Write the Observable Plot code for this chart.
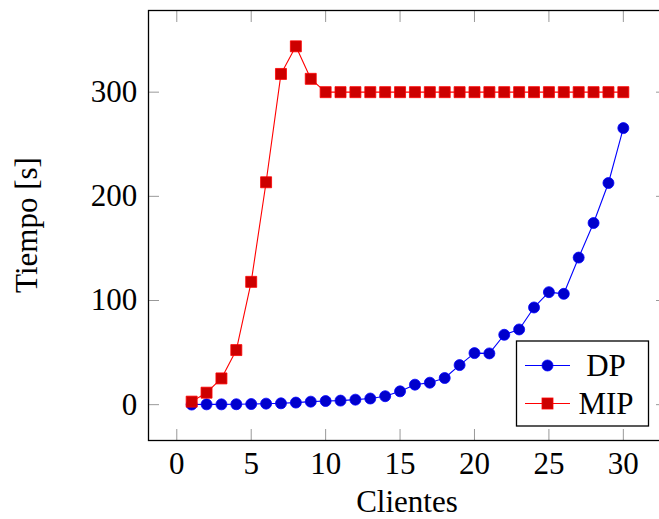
<!DOCTYPE html>
<html><head><meta charset="utf-8">
<script src="https://cdn.jsdelivr.net/npm/d3@7"></script>
<script src="https://cdn.jsdelivr.net/npm/@observablehq/plot@0.6"></script>
<style>html,body{margin:0;padding:0;background:#fff;overflow:hidden;}</style>
</head><body><div id="chart"></div>
<script>
const clientes = [1,2,3,4,5,6,7,8,9,10,11,12,13,14,15,16,17,18,19,20,21,22,23,24,25,26,27,28,29,30];
const dpTiempo = [0.1,0.3,0.3,0.4,0.6,1.0,1.3,2.0,2.9,3.5,3.9,4.8,5.9,8.1,12.8,19.2,21.1,25.6,38.0,49.5,49.2,67.1,72.2,93.3,108.0,106.4,141.2,174.4,212.8,265.5];
const mipTiempo = [2.9,11.5,25.2,52.4,117.9,213.5,317.5,344.0,312.8,300,300,300,300,300,300,300,300,300,300,300,300,300,300,300,300,300,300,300,300,300];
const xTicks = [0,5,10,15,20,25,30];
const yTicks = [0,100,200,300];
const seriesNames = ["DP","MIP"];
const xLabel = "Clientes";
const yLabel = "Tiempo [s]";

const dpData = clientes.map((c,i)=>({clientes:c, tiempo:dpTiempo[i]}));
const mipData = clientes.map((c,i)=>({clientes:c, tiempo:mipTiempo[i]}));

const font = "'Liberation Serif', 'Times New Roman', serif";
const tickColor = "#999";
const blueLine = "#0000ff", blueFill = "#0000cc", redLine = "#ff0000", redFill = "#cc0000";

const W = 659, H = 519, mL = 148, mR = -7, mT = 10, mB = 79;

const plot = Plot.plot({
  width: W, height: H,
  marginLeft: mL, marginRight: mR, marginTop: mT, marginBottom: mB,
  style: {fontFamily: font, fontSize: "31px", background: "#fff", color: "#000", overflow: "hidden"},
  x: {domain: [-1.9, 32.9]},
  y: {domain: [-34.4, 378.4]},
  marks: [
    Plot.axisX(xTicks, {anchor: "bottom", tickSize: -11, fill: "none", stroke: tickColor, label: null}),
    Plot.axisX(xTicks, {anchor: "top", tickSize: -11, fill: "none", stroke: tickColor, label: null}),
    Plot.axisY(yTicks, {anchor: "left", tickSize: -11, fill: "none", stroke: tickColor, label: null}),
    Plot.axisY(yTicks, {anchor: "right", tickSize: -11, fill: "none", stroke: tickColor, label: null}),
    Plot.axisX(xTicks, {anchor: "bottom", tickSize: 0, tickPadding: 11.3, label: null, fill: "#000"}),
    Plot.axisY(yTicks, {anchor: "left", tickSize: 0, tickPadding: 11.3, label: null, fill: "#000"}),
    Plot.frame({stroke: "#000", strokeWidth: 1.3}),
    Plot.line(dpData, {x: "clientes", y: "tiempo", stroke: blueLine, strokeWidth: 1.1}),
    Plot.dot(dpData, {x: "clientes", y: "tiempo", r: 5.5, fill: blueFill, stroke: blueLine, strokeWidth: 0.8}),
    Plot.line(mipData, {x: "clientes", y: "tiempo", stroke: redLine, strokeWidth: 1.1}),
    Plot.dot(mipData, {x: "clientes", y: "tiempo", symbol: "square", r: 6.2, fill: redFill, stroke: redLine, strokeWidth: 0.8})
  ]
});

const svg = d3.select(plot);
const xr = plot.scale("x").range, yr = plot.scale("y").range;
const cx = (xr[0] + xr[1]) / 2, cy = (yr[0] + yr[1]) / 2;

svg.append("text").text(xLabel)
  .attr("x", cx).attr("y", 512).attr("text-anchor", "middle")
  .attr("font-family", font).attr("font-size", 31).attr("fill", "#000");
svg.append("text").text(yLabel)
  .attr("transform", `translate(36.7,${cy}) rotate(-90)`).attr("text-anchor", "middle")
  .attr("font-family", font).attr("font-size", 31).attr("fill", "#000");

// legend
const lg = svg.append("g");
lg.append("rect").attr("x", 516.5).attr("y", 341).attr("width", 132).attr("height", 85)
  .attr("fill", "#fff").attr("stroke", "#000").attr("stroke-width", 1.3);
const rows = [365.5, 403.5];
seriesNames.forEach((name, i) => {
  const y = rows[i];
  const line = i === 0 ? blueLine : redLine, fill = i === 0 ? blueFill : redFill;
  lg.append("line").attr("x1", 525).attr("x2", 570).attr("y1", y).attr("y2", y)
    .attr("stroke", line).attr("stroke-width", 1.1);
  if (i === 0) {
    lg.append("circle").attr("cx", 547.5).attr("cy", y).attr("r", 5.5)
      .attr("fill", fill).attr("stroke", line).attr("stroke-width", 0.8);
  } else {
    lg.append("rect").attr("x", 547.5 - 5.5).attr("y", y - 5.5).attr("width", 11).attr("height", 11)
      .attr("fill", fill).attr("stroke", line).attr("stroke-width", 0.8);
  }
  lg.append("text").text(name).attr("x", 606).attr("y", y + 10.8).attr("text-anchor", "middle")
    .attr("font-family", font).attr("font-size", 31).attr("fill", "#000");
});

document.getElementById("chart").appendChild(plot);
</script>
</body></html>
